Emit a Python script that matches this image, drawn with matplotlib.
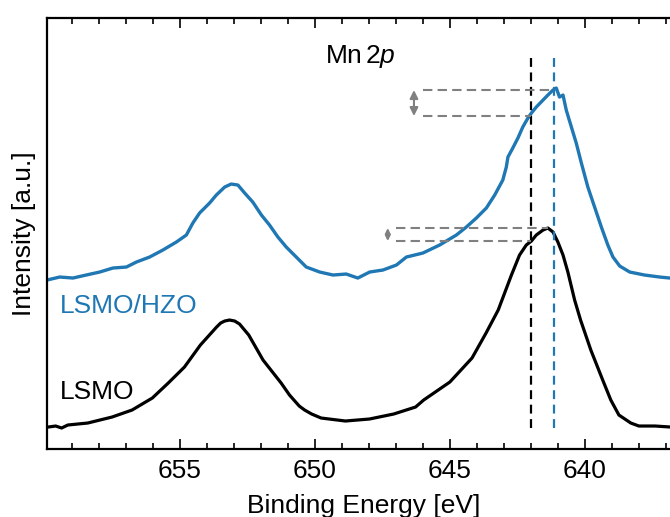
import numpy as np
import matplotlib
matplotlib.use("Agg")
from matplotlib import pyplot as plt
from matplotlib.ticker import MultipleLocator

plt.rcParams['font.family'] = ['Liberation Sans', 'DejaVu Sans']
plt.rcParams['mathtext.fontset'] = 'custom'
plt.rcParams['mathtext.it'] = 'Liberation Sans:italic'
plt.rcParams['mathtext.rm'] = 'Liberation Sans'

# LSMO reference spectrum (binding energy [eV], intensity [a.u.])
lsmo_e = [660.0, 659.86, 659.59, 659.37, 659.14, 658.40, 657.50, 656.76, 656.01,
          655.42, 654.82, 654.23, 653.63, 653.48, 653.33, 653.15, 652.96, 652.78,
          652.44, 651.91, 651.24, 650.93, 650.57, 650.37, 650.11, 649.76, 648.86,
          647.97, 647.07, 646.26, 645.96, 644.99, 644.17, 643.65, 643.20, 642.71,
          642.41, 642.16, 641.97, 641.79, 641.54, 641.36, 641.17, 640.99, 640.80,
          640.62, 640.37, 640.15, 639.77, 639.33, 639.03, 638.73, 638.29, 637.99,
          637.39, 636.83, 636.0]
lsmo_i = [0.22, 0.22, 0.23, 0.21, 0.24, 0.26, 0.32, 0.39, 0.51,
          0.66, 0.82, 1.04, 1.22, 1.26, 1.28, 1.29, 1.28, 1.25,
          1.14, 0.89, 0.66, 0.54, 0.43, 0.39, 0.35, 0.31, 0.28,
          0.30, 0.35, 0.42, 0.49, 0.67, 0.91, 1.16, 1.39, 1.74,
          1.94, 2.04, 2.08, 2.14, 2.19, 2.21, 2.17, 2.07, 1.94,
          1.77, 1.49, 1.29, 0.99, 0.69, 0.49, 0.34, 0.26, 0.23,
          0.23, 0.22, 0.22]

# LSMO/HZO spectrum (offset)
hzo_e = [660.0, 659.91, 659.44, 658.95, 658.46, 657.96, 657.47, 656.97, 656.60,
         656.11, 655.62, 655.12, 654.75, 654.51, 654.26, 653.89, 653.64, 653.33,
         653.09, 652.84, 652.59, 652.29, 651.97, 651.67, 651.36, 651.05, 650.68,
         650.31, 649.81, 649.32, 648.83, 648.40, 647.96, 647.47, 646.97, 646.60,
         645.99, 645.37, 644.75, 644.38, 644.01, 643.64, 643.33, 643.03, 642.90,
         642.84, 642.66, 642.47, 642.29, 642.10, 641.97, 641.79, 641.54, 641.36,
         641.17, 641.05, 640.93, 640.80, 640.68, 640.49, 640.31, 640.12, 639.88,
         639.63, 639.38, 639.14, 638.95, 638.70, 638.33, 637.78, 637.22, 636.85,
         636.0]
hzo_i = [1.69, 1.69, 1.72, 1.71, 1.74, 1.77, 1.81, 1.82, 1.87,
         1.92, 1.99, 2.07, 2.14, 2.26, 2.36, 2.46, 2.54, 2.62,
         2.65, 2.64, 2.56, 2.47, 2.34, 2.24, 2.12, 2.02, 1.92,
         1.82, 1.77, 1.74, 1.75, 1.71, 1.77, 1.79, 1.84, 1.92,
         1.96, 2.04, 2.14, 2.22, 2.31, 2.41, 2.54, 2.69, 2.82,
         2.92, 3.01, 3.11, 3.22, 3.31, 3.36, 3.42, 3.49, 3.54,
         3.59, 3.61, 3.52, 3.54, 3.39, 3.22, 3.06, 2.86, 2.62,
         2.42, 2.22, 2.04, 1.92, 1.83, 1.77, 1.74, 1.72, 1.71,
         1.71]

# peak positions and markers
peak_lsmo = 642.0
peak_hzo = 641.15
vline_span = (0.21, 3.91)
# (arrow x, line start, upper level, upper end, lower level, lower end, head size)
shift_hzo = (646.32, 646.0, 3.59, peak_hzo, 3.33, peak_lsmo, 12)
shift_lsmo = (647.29, 646.97, 2.21, 641.36, 2.08, peak_lsmo, 7)

blue = '#1f77b4'
fs = 19

fig = plt.figure(figsize=(6.7, 5.17), dpi=100)
ax = fig.add_axes([0.0706, 0.1315, 0.943, 0.833])

ax.plot(lsmo_e, lsmo_i, color='black', lw=2.3)
ax.plot(hzo_e, hzo_i, color=blue, lw=2.4)

ax.vlines(peak_lsmo, *vline_span, colors='black', linestyles=(0, (4, 2.5)), lw=1.6)
ax.vlines(peak_hzo, *vline_span, colors=blue, linestyles=(0, (4, 2.5)), lw=1.6)

for xa, x0, y_hi, x_hi, y_lo, x_lo, hs in (shift_hzo, shift_lsmo):
    ax.plot([x0, x_hi], [y_hi, y_hi], color='gray', ls=(0, (4.5, 2.5)), lw=1.5)
    ax.plot([x0, x_lo], [y_lo, y_lo], color='gray', ls=(0, (4.5, 2.5)), lw=1.5)
    ax.annotate('', xy=(xa, y_hi), xytext=(xa, y_lo),
                arrowprops=dict(arrowstyle='<|-|>', color='gray', lw=1.5,
                                mutation_scale=hs, shrinkA=0, shrinkB=0))

ax.text(659.44, 1.36, 'LSMO/HZO', color=blue, fontsize=fs, va='baseline')
ax.text(659.44, 0.50, 'LSMO', color='black', fontsize=fs, va='baseline')
ax.text(648.3, 3.86, r'Mn$\,$2$p$', fontsize=fs, ha='center', va='baseline')

ax.set_xlim(659.9, 636.5)
ax.set_ylim(0, 4.307)
ax.xaxis.set_major_locator(MultipleLocator(5))
ax.xaxis.set_minor_locator(MultipleLocator(1))
ax.set_yticks([])
ax.tick_params(axis='x', which='both', direction='in', top=True, bottom=True,
               labelsize=fs, pad=7)
ax.tick_params(axis='x', which='major', length=7, width=1.2)
ax.tick_params(axis='x', which='minor', length=4, width=1.2)
for s in ax.spines.values():
    s.set_linewidth(1.6)

ax.set_xlabel('Binding Energy [eV]', fontsize=fs, labelpad=8)
ax.set_ylabel('Intensity [a.u.]', fontsize=fs, labelpad=8)

fig.savefig('out.png', dpi=100)
